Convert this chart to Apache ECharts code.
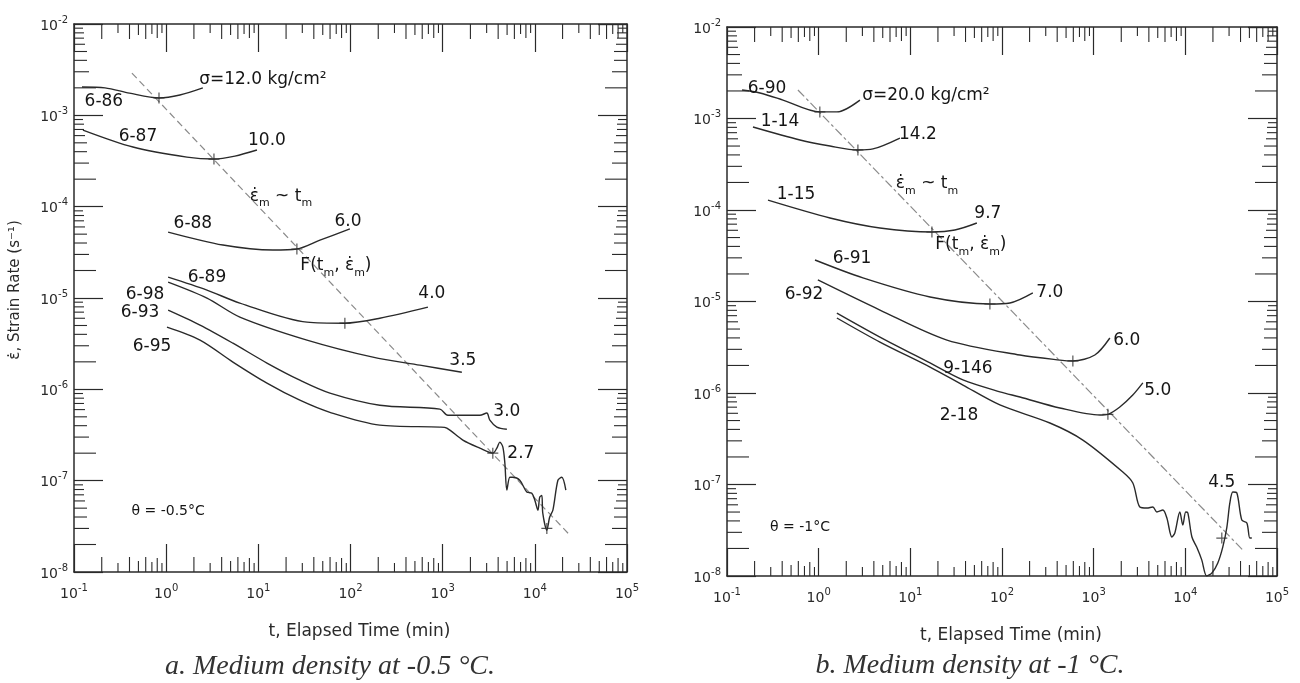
<!DOCTYPE html>
<html><head><meta charset="utf-8">
<script src="https://cdn.jsdelivr.net/npm/echarts@6/dist/echarts.min.js"></script>
<style>html,body{margin:0;padding:0;background:#fff}#c{width:1300px;height:683px}</style>
</head><body><div id="c"></div>
<script>
// ---------- axis ranges ----------
const X_MIN = 0.1, X_MAX = 1e5, Y_MIN = 1e-8, Y_MAX = 1e-2;
const minorMultipliers = [2, 3, 4, 5, 6, 7, 8, 9];

// ---------- panel a (-0.5 °C) curves: [t (min), strain rate (1/s)] ----------
const a_686 = [[0.122,2.04e-3],[0.217,2.0e-3],[0.40,1.75e-3],[0.836,1.55e-3],[1.41,1.67e-3],[2.5,2.0e-3]];
const a_687 = [[0.125,6.9e-4],[0.436,4.5e-4],[1.68,3.49e-4],[3.3,3.32e-4],[5.57,3.58e-4],[9.66,4.17e-4]];
const a_688 = [[1.05,5.27e-5],[4.13,3.8e-5],[14.4,3.35e-5],[26.2,3.44e-5],[46.6,4.3e-5],[98.5,5.7e-5]];
const a_689 = [[1.05,1.69e-5],[2.77,1.22e-5],[6.3,8.8e-6],[33.7,5.44e-6],[86.9,5.3e-6],[208,6.0e-6],[692,7.94e-6]];
const a_698 = [[1.05,1.49e-5],[2.77,9.97e-6],[6.3,6.18e-6],[33.7,3.46e-6],[175,2.25e-6],[566,1.84e-6],[1615,1.54e-6]];
const a_693 = [[1.05,7.36e-6],[2.33,5.05e-6],[5.3,3.2e-6],[12.4,1.94e-6],[28.2,1.26e-6],[59.8,9.1e-7],[208,6.7e-7],[933,6.07e-7],[1138,5.2e-7],[2530,5.2e-7],[3013,5.5e-7],[3250,4.6e-7],[3870,3.86e-7],[4970,3.66e-7]];
const a_695 = [[1.02,4.8e-6],[2.33,3.46e-6],[5.3,1.99e-6],[12.4,1.17e-6],[28.2,7.6e-7],[59.8,5.6e-7],[208,4.06e-7],[933,3.86e-7],[1110,3.76e-7],[1657,2.78e-7],[2530,2.27e-7],[3500,2.0e-7],[3870,2.27e-7],[4170,2.64e-7],[4500,2.33e-7],[4730,1.55e-7],[4970,7.9e-8],[5360,1.09e-7],[5770,1.09e-7],[6870,1.01e-7],[8180,7.5e-8],[9270,7.3e-8],[1.0e4,6.1e-8],[1.08e4,4.75e-8],[1.13e4,6.6e-8],[1.19e4,6.9e-8],[1.22e4,4.4e-8],[1.35e4,2.87e-8],[1.45e4,4.0e-8],[1.57e4,4.75e-8],[1.78e4,1.01e-7],[1.96e4,1.09e-7],[2.17e4,7.9e-8]];
const a_trend = [[0.425,2.9e-3],[2.4e4,2.53e-8]];
const a_minima = [[0.836,1.55e-3],[3.3,3.32e-4],[26.2,3.44e-5],[86.9,5.3e-6],[3500,2.0e-7],[1.35e4,3.0e-8]];

// ---------- panel b (-1 °C) curves ----------
const b_690 = [[0.146,2.05e-3],[0.229,1.9e-3],[0.408,1.59e-3],[1.03,1.18e-3],[1.58,1.18e-3],[2.82,1.59e-3]];
const b_114 = [[0.192,8.07e-4],[0.625,5.82e-4],[1.33,5.0e-4],[2.68,4.53e-4],[3.91,4.65e-4],[7.7,6.12e-4]];
const b_115 = [[0.28,1.28e-4],[1.33,8.18e-5],[4.66,6.36e-5],[17.2,5.75e-5],[30.6,6.04e-5],[53.2,7.21e-5]];
const b_691 = [[0.912,2.84e-5],[3.04,1.81e-5],[16.4,1.12e-5],[73.8,9.39e-6],[122,9.63e-6],[217,1.24e-5]];
const b_692 = [[0.98,1.72e-5],[4.66,8.07e-6],[25.1,3.79e-6],[157,2.6e-6],[428,2.29e-6],[593,2.24e-6],[1030,2.6e-6],[1502,3.99e-6]];
const b_9146 = [[1.58,7.48e-6],[4.66,4.09e-6],[16.4,2.13e-6],[37.5,1.39e-6],[94.8,1.03e-6],[157,9.04e-7],[428,6.86e-7],[1170,5.75e-7],[1430,5.85e-7],[1930,7.03e-7],[2670,9.5e-7],[3440,1.29e-6]];
const b_218 = [[1.58,6.6e-6],[4.66,3.6e-6],[16.4,1.92e-6],[37.5,1.22e-6],[94.8,7.4e-7],[333,4.7e-7],[762,3.06e-7],[2080,1.37e-7],[2675,1.04e-7],[3190,5.67e-8],[3800,5.53e-8],[4425,5.67e-8],[4890,5.0e-8],[5690,5.26e-8],[6290,4.3e-8],[7130,2.67e-8],[7680,2.95e-8],[8710,5.0e-8],[9390,3.6e-8],[1.01e4,5.0e-8],[1.065e4,4.89e-8],[1.18e4,2.67e-8],[1.33e4,2.07e-8],[1.51e4,1.5e-8],[1.71e4,1.0e-8],[1.95e4,1.08e-8],[2.26e4,1.39e-8],[2.56e4,2.07e-8],[2.84e4,3.43e-8],[3.06e4,6.28e-8],[3.3e4,8.28e-8],[3.65e4,8.07e-8],[4.13e4,4.09e-8],[4.69e4,3.8e-8],[5.05e4,2.6e-8],[5.31e4,2.6e-8]];
const b_trend = [[0.594,2.05e-3],[4.24e4,1.92e-8]];
const b_minima = [[1.03,1.18e-3],[2.68,4.53e-4],[17.2,5.75e-5],[73.8,9.39e-6],[593,2.24e-6],[1430,5.85e-7],[2.5e4,2.6e-8]];

// ---------- annotations: [text, t, strain rate] ----------
const a_labels = [
  ['6-86', 0.211, 1.4e-3], ['{n|σ=12.0 kg/cm²}', 11.2, 2.44e-3],
  ['6-87', 0.494, 5.78e-4], ['10.0', 12.4, 5.24e-4],
  ['{n|ε̇}{s|m}{n| ~ t}{s|m}', 17.6, 1.24e-4],
  ['6-88', 1.95, 6.45e-5], ['6.0', 93.8, 6.95e-5],
  ['{n|F(t}{s|m}{n|, ε̇}{s|m}{n|)}', 69.5, 2.13e-5],
  ['6-89', 2.77, 1.69e-5], ['6-98', 0.589, 1.08e-5], ['6-93', 0.52, 6.84e-6], ['6-95', 0.702, 2.97e-6],
  ['4.0', 764, 1.13e-5], ['3.5', 1657, 2.09e-6], ['3.0', 4970, 5.77e-7], ['2.7', 7050, 2.0e-7],
  ['{t|θ = -0.5°C}', 1.05, 4.63e-8]
];
const b_labels = [
  ['6-90', 0.273, 2.15e-3], ['{n|σ=20.0 kg/cm²}', 14.8, 1.76e-3],
  ['1-14', 0.378, 9.16e-4], ['14.2', 12.1, 6.6e-4],
  ['{n|ε̇}{s|m}{n| ~ t}{s|m}', 15.2, 1.83e-4],
  ['1-15', 0.566, 1.46e-4], ['9.7', 70.1, 9.03e-5],
  ['{n|F(t}{s|m}{n|, ε̇}{s|m}{n|)}', 45.8, 3.94e-5],
  ['6-91', 2.31, 2.91e-5], ['7.0', 333, 1.24e-5],
  ['6-92', 0.692, 1.18e-5], ['6.0', 2300, 3.7e-6],
  ['9-146', 42.5, 1.87e-6], ['5.0', 5010, 1.05e-6],
  ['2-18', 33.9, 5.6e-7], ['4.5', 2.5e4, 1.04e-7],
  ['{t|θ = -1°C}', 0.625, 3.44e-8]
];

const xTitle = 't, Elapsed Time (min)';
const yTitle = 'ε̇, Strain Rate (s⁻¹)';
const captions = ['a. Medium density at -0.5 °C.', 'b. Medium density at -1 °C.'];

// ---------- styling / building ----------
const INK = '#2a2a2a';
const TXT = '#151515';
const FONT = 'DejaVu Sans';
const xMinorLen = [15, 9, 15, 11, 15, 10, 14, 9];
const yMinorLen = [22, 15, 13, 13, 11, 10, 10, 9];

function expLabel(v) {
  const e = Math.round(Math.log10(v));
  return '{a|10}{b|' + e + '}';
}
const expRich = {
  a: { fontSize: 14, fontFamily: FONT, color: INK, verticalAlign: 'bottom' },
  b: { fontSize: 10, fontFamily: FONT, color: INK, verticalAlign: 'bottom', padding: [0, 0, 8, 0] }
};

function xAx(g, pos) {
  const isB = pos === 'bottom';
  return {
    gridIndex: g, type: 'log', logBase: 10, min: X_MIN, max: X_MAX, position: pos, splitNumber: 6,
    axisLine: { onZero: false, lineStyle: { color: INK, width: 1.5 } },
    axisTick: { inside: true, length: 28, lineStyle: { color: INK, width: 1.2 } },
    axisLabel: { show: isB, formatter: expLabel, rich: expRich, margin: 11 },
    splitLine: { show: false },
    name: isB ? xTitle : '', nameLocation: 'middle', nameGap: 51,
    nameTextStyle: { fontFamily: FONT, fontSize: 17, color: INK, padding: [0, 0, 0, 18] }
  };
}
function yAx(g, pos) {
  const isL = pos === 'left';
  return {
    gridIndex: g, type: 'log', logBase: 10, min: Y_MIN, max: Y_MAX, position: pos, splitNumber: 6,
    axisLine: { onZero: false, lineStyle: { color: INK, width: 1.5 } },
    axisTick: { inside: true, length: 29, lineStyle: { color: INK, width: 1.2 } },
    axisLabel: { show: isL, formatter: expLabel, rich: expRich, margin: 6 },
    splitLine: { show: false }
  };
}

function minorTickData() {
  const items = [];
  for (let e = Math.round(Math.log10(X_MIN)); e < Math.round(Math.log10(X_MAX)); e++)
    minorMultipliers.forEach((m, i) => items.push([m * Math.pow(10, e), Y_MIN * 10, i, 0]));
  for (let e = Math.round(Math.log10(Y_MIN)); e < Math.round(Math.log10(Y_MAX)); e++)
    minorMultipliers.forEach((m, i) => items.push([X_MIN * 10, m * Math.pow(10, e), i, 1]));
  return items;
}
function seg(x1, y1, x2, y2) {
  return { type: 'line', shape: { x1, y1, x2, y2 }, style: { stroke: INK, lineWidth: 1.1 } };
}
function tickSeries(g) {
  return {
    type: 'custom', xAxisIndex: 2 * g, yAxisIndex: 2 * g, silent: true, clip: false, z: 1,
    encode: { x: 0, y: 1 },
    data: minorTickData(),
    renderItem: function (params, api) {
      const i = api.value(2), k = api.value(3);
      if (k === 0) {
        const v = api.value(0), len = xMinorLen[i];
        const a = api.coord([v, Y_MIN]), b = api.coord([v, Y_MAX]);
        return { type: 'group', children: [seg(a[0], a[1], a[0], a[1] - len), seg(b[0], b[1], b[0], b[1] + len)] };
      } else {
        const v = api.value(1), len = yMinorLen[i];
        const a = api.coord([X_MIN, v]), b = api.coord([X_MAX, v]);
        return { type: 'group', children: [seg(a[0], a[1], a[0] + len, a[1]), seg(b[0], b[1], b[0] - len, b[1])] };
      }
    }
  };
}
function curve(g, data) {
  return {
    type: 'line', xAxisIndex: 2 * g, yAxisIndex: 2 * g, data: data, showSymbol: false, silent: true,
    smooth: 0.3, z: 3,
    lineStyle: { color: INK, width: 1.4 }
  };
}
function trend(g, data, dash) {
  return {
    type: 'line', xAxisIndex: 2 * g, yAxisIndex: 2 * g, data: data, showSymbol: false, silent: true, z: 2,
    lineStyle: { color: '#8a8a8a', width: 1.2, type: dash }
  };
}
function crosses(g, data) {
  return {
    type: 'scatter', xAxisIndex: 2 * g, yAxisIndex: 2 * g, data: data, silent: true, z: 4,
    symbol: 'path://M0,-10L0,10M-10,0L10,0', symbolSize: 11,
    itemStyle: { color: 'none', borderColor: INK, borderWidth: 1.2 }
  };
}
const noBorder = { textBorderWidth: 0, textBorderColor: 'transparent', textShadowBlur: 0, opacity: 1 };
const labRich = {
  n: Object.assign({ fontSize: 17, fontFamily: FONT, color: TXT, verticalAlign: 'top' }, noBorder),
  s: Object.assign({ fontSize: 11, fontFamily: FONT, color: TXT, verticalAlign: 'top', padding: [10, 0, 0, 0] }, noBorder),
  t: Object.assign({ fontSize: 14, fontFamily: FONT, color: TXT }, noBorder)
};
function labels(g, arr) {
  return {
    type: 'scatter', xAxisIndex: 2 * g, yAxisIndex: 2 * g, silent: true, z: 5, symbolSize: 0,
    data: arr.map(r => ({ value: [r[1], r[2]], name: r[0] })),
    label: Object.assign({
      show: true, position: 'inside', align: 'center', verticalAlign: 'middle',
      fontSize: 17, fontFamily: FONT, color: TXT, rich: labRich,
      formatter: p => p.name
    }, noBorder)
  };
}

const chart = echarts.init(document.getElementById('c'), null, { renderer: 'canvas' });
chart.setOption({
  backgroundColor: '#ffffff',
  animation: false,
  grid: [
    { left: 74, top: 24, width: 553, height: 548 },
    { left: 727, top: 27, width: 550, height: 549 }
  ],
  xAxis: [xAx(0, 'bottom'), xAx(0, 'top'), xAx(1, 'bottom'), xAx(1, 'top')],
  yAxis: [yAx(0, 'left'), yAx(0, 'right'), yAx(1, 'left'), yAx(1, 'right')],
  graphic: [
    { type: 'text', x: 15, y: 290, rotation: Math.PI / 2, style: { text: yTitle, textAlign: 'center', textVerticalAlign: 'middle', font: '15px "DejaVu Sans"', fill: INK } },
    { type: 'text', x: 330, y: 667, style: { text: captions[0], textAlign: 'center', textVerticalAlign: 'middle', font: 'italic 28px "Liberation Serif"', fill: '#333' } },
    { type: 'text', x: 970, y: 666, style: { text: captions[1], textAlign: 'center', textVerticalAlign: 'middle', font: 'italic 28px "Liberation Serif"', fill: '#333' } }
  ],
  series: [
    tickSeries(0), tickSeries(1),
    curve(0, a_686), curve(0, a_687), curve(0, a_688), curve(0, a_689), curve(0, a_698), curve(0, a_693), curve(0, a_695),
    trend(0, a_trend, [7, 4]), crosses(0, a_minima), labels(0, a_labels),
    curve(1, b_690), curve(1, b_114), curve(1, b_115), curve(1, b_691), curve(1, b_692), curve(1, b_9146), curve(1, b_218),
    trend(1, b_trend, [9, 3, 3, 3]), crosses(1, b_minima), labels(1, b_labels)
  ]
});
</script></body></html>
